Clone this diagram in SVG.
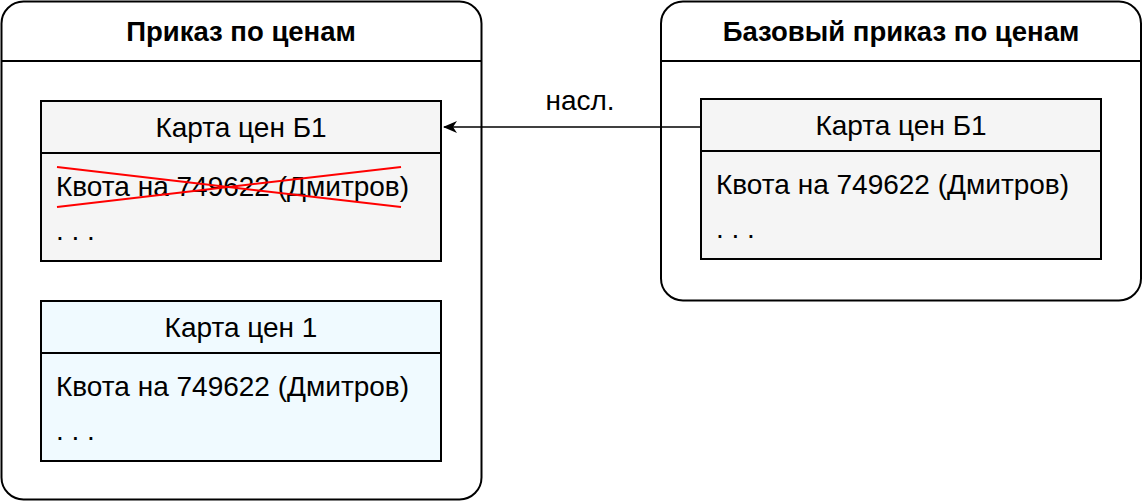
<svg xmlns="http://www.w3.org/2000/svg" width="1144" height="502" viewBox="0 0 1144 502">
<style>
.cont{fill:#ffffff;stroke:#000;stroke-width:2}
.sep{stroke:#000;stroke-width:2;fill:none}
.box{stroke:#000;stroke-width:2}
.grey{fill:#f5f5f5}
.blue{fill:#f0faff}
.title{font-family:"Liberation Sans",Arial,sans-serif;font-size:27.5px;font-weight:bold;text-anchor:middle;fill:#000}
.hdr{font-family:"Liberation Sans",Arial,sans-serif;font-size:28px;text-anchor:middle;fill:#000}
.item{font-family:"Liberation Sans",Arial,sans-serif;font-size:28px;fill:#000}
.lbl{font-family:"Liberation Sans",Arial,sans-serif;font-size:28px;text-anchor:middle;fill:#000}
.cross{stroke:#ff0000;stroke-width:2}
</style>
<defs>
<marker id="arr" markerWidth="14" markerHeight="12" refX="13" refY="6" orient="auto" markerUnits="userSpaceOnUse">
<path d="M0,0 L14,6 L0,12 L4,6 Z" fill="#000"/>
</marker>
</defs>
<g id="order">
<rect class="cont" x="1.5" y="1.5" width="480" height="498" rx="22" ry="22"/>
<line class="sep" x1="1.5" y1="61" x2="481.5" y2="61"/>
<text class="title" x="241" y="41">Приказ по ценам</text>
</g>
<g id="base-order">
<rect class="cont" x="661" y="1.5" width="480" height="299" rx="22" ry="22"/>
<line class="sep" x1="661" y1="61" x2="1141" y2="61"/>
<text class="title" x="901" y="41">Базовый приказ по ценам</text>
</g>
<g id="card-b1-left">
<rect class="box grey" x="41" y="101" width="400" height="160"/>
<line class="sep" x1="41" y1="153" x2="441" y2="153"/>
<text class="hdr" x="241" y="137">Карта цен Б1</text>
<text class="item" x="56" y="196">Квота на 749622 (Дмитров)</text>
<text class="item" x="56" y="240">. . .</text>
<line class="cross" x1="57" y1="167" x2="401" y2="207"/>
<line class="cross" x1="57" y1="207" x2="401" y2="167"/>
</g>
<g id="card-1">
<rect class="box blue" x="41" y="301" width="400" height="160"/>
<line class="sep" x1="41" y1="353" x2="441" y2="353"/>
<text class="hdr" x="241" y="337">Карта цен 1</text>
<text class="item" x="56" y="396">Квота на 749622 (Дмитров)</text>
<text class="item" x="56" y="440">. . .</text>
</g>
<g id="card-b1-right">
<rect class="box grey" x="701" y="99" width="400" height="160"/>
<line class="sep" x1="701" y1="151" x2="1101" y2="151"/>
<text class="hdr" x="901" y="135">Карта цен Б1</text>
<text class="item" x="716" y="194">Квота на 749622 (Дмитров)</text>
<text class="item" x="716" y="238">. . .</text>
</g>
<g id="connectors">
<line x1="701" y1="127" x2="444" y2="127" stroke="#000" stroke-width="1.5" marker-end="url(#arr)"/>
<text class="lbl" x="580" y="110">насл.</text>
</g>
</svg>
